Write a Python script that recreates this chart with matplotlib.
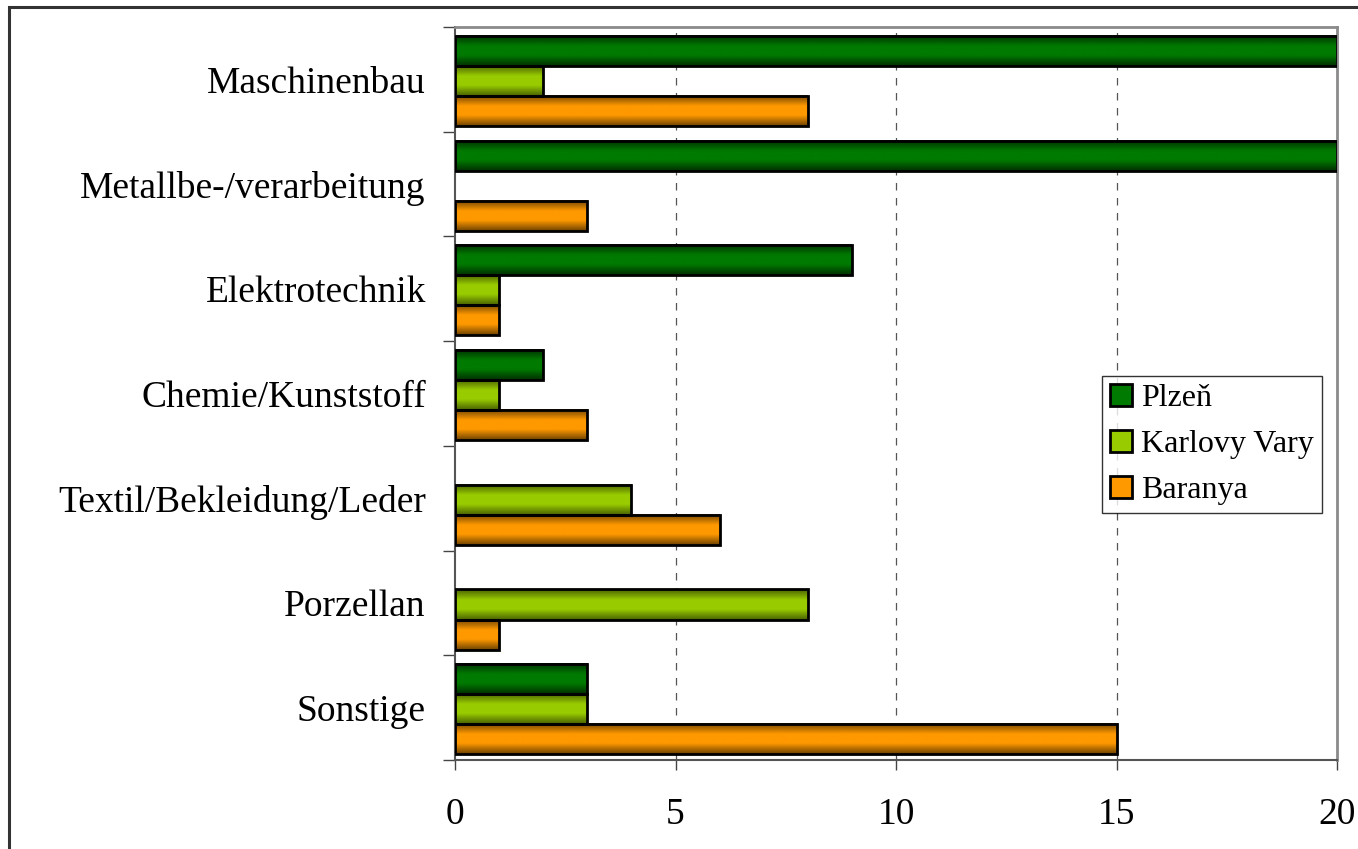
import matplotlib
matplotlib.use("Agg")
import matplotlib.pyplot as plt
import numpy as np
from matplotlib.colors import LinearSegmentedColormap
from matplotlib.patches import Patch, Rectangle

font = "Liberation Serif"
plt.rcParams["font.family"] = font

categories = ["Maschinenbau", "Metallbe-/verarbeitung", "Elektrotechnik",
              "Chemie/Kunststoff", "Textil/Bekleidung/Leder", "Porzellan", "Sonstige"]
series = ["Plzeň", "Karlovy Vary", "Baranya"]
plzen = [20, 20, 9, 2, 0, 0, 3]
karlovy_vary = [2, 0, 1, 1, 4, 8, 3]
baranya = [8, 3, 1, 3, 6, 1, 15]
xticks = [0, 5, 10, 15, 20]

values = [plzen, karlovy_vary, baranya]
mid_colors = ["#007A00", "#99CC00", "#FF9900"]
dark_colors = ["#003000", "#4A6200", "#704400"]

fig = plt.figure(figsize=(13.58, 8.49), dpi=100)
# outer frame of the chart object
fig.patches.append(Rectangle((9 / 1358, -0.05), 1.2, 1 - 7 / 849 + 0.05,
                             transform=fig.transFigure, fill=False,
                             edgecolor="#333333", linewidth=2.2))
ax = fig.add_axes([455 / 1358, 1 - 760 / 849, (1337 - 455) / 1358, (760 - 27) / 849])

y = np.arange(len(categories))
h = 0.287
offsets = [-h, 0, h]
grad = np.linspace(0, 1, 64).reshape(-1, 1)

for k in range(3):
    cmap = LinearSegmentedColormap.from_list(
        "g%d" % k, [(0, dark_colors[k]), (0.35, mid_colors[k]),
                    (0.65, mid_colors[k]), (1, dark_colors[k])])
    vals = np.array(values[k])
    yy = y + offsets[k] + 0.015
    for v, yc in zip(vals, yy):
        if v <= 0:
            continue
        ax.imshow(grad, extent=[0, v, yc + h / 2, yc - h / 2], cmap=cmap,
                  aspect="auto", interpolation="bilinear", zorder=2)
    mask = vals > 0
    ax.barh(yy[mask], vals[mask], height=h, fill=False, edgecolor="black",
            linewidth=2.0, zorder=3)

ax.set_xlim(0, 20)
ax.set_ylim(len(categories) - 0.5, -0.5)

for xv in xticks[1:-1]:
    ax.axvline(xv, color="#555555", linestyle=(0, (6, 6)), linewidth=0.9, zorder=1)

ax.set_xticks(xticks)
ax.set_xticklabels([str(t) for t in xticks], fontsize=27)
ax.set_yticks(y)
ax.set_yticklabels(categories, fontsize=27)
ax.set_yticks(np.arange(-0.5, len(categories)), minor=True)
ax.tick_params(axis="y", which="major", length=0, pad=21)
ax.tick_params(axis="y", which="minor", length=9, width=1.0, color="#444444", direction="out")
ax.tick_params(axis="x", which="major", length=7, width=1.0, color="#444444",
               direction="out", pad=20)

for side in ["top", "right"]:
    ax.spines[side].set_color("#8a8a8a")
    ax.spines[side].set_linewidth(2.0)
for side in ["left", "bottom"]:
    ax.spines[side].set_color("#555555")
    ax.spines[side].set_linewidth(1.5)

handles = [Patch(facecolor=mid_colors[k], edgecolor="black", linewidth=2.0) for k in range(3)]
leg = ax.legend(handles, series, loc="upper left",
                bbox_to_anchor=(1102 / 1358, 1 - 376 / 849), bbox_transform=fig.transFigure,
                fontsize=23, frameon=True, fancybox=False, shadow=False,
                borderpad=0.25, labelspacing=0.53, handlelength=0.68, handleheight=0.68,
                handletextpad=0.3, borderaxespad=0)
leg.get_frame().set_edgecolor("black")
leg.get_frame().set_linewidth(1.0)

fig.savefig("out.png", dpi=100)
